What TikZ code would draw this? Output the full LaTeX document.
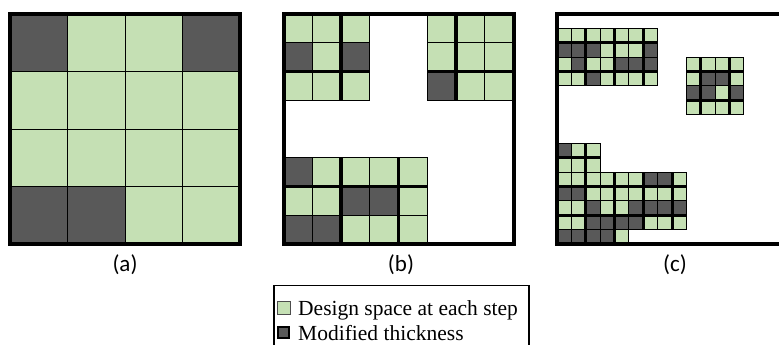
\documentclass[tikz,border=0pt]{standalone}
\usepackage{fontspec}
\setmainfont{Liberation Serif}
\newfontfamily\labelfont{Carlito}
\definecolor{cG}{HTML}{C5E0B4}
\definecolor{cD}{HTML}{595959}
\newcommand{\cblock}[3]{%
  \foreach \rw [count=\j from #2] in {#3}{%
    \foreach \t [count=\i from #1] in \rw {%
      \filldraw[fill=c\t,gridline] (\i,\j) rectangle ++(1,1);}}}
\begin{document}
\begin{tikzpicture}[x=1pt,y=-1pt,
  gridline/.style={draw=black,line width=0.8pt},
  thickline/.style={draw=black,line width=3.5pt},
  border/.style={draw=black,line width=4pt},
  plabel/.style={font=\labelfont\fontsize{23}{27}\selectfont,inner sep=0pt},
  legtext/.style={font=\fontsize{21.5}{25}\selectfont,inner sep=0pt,anchor=base west}]
\useasboundingbox (0,0) rectangle (779,345);
\fill[white] (0,0) rectangle (779,345);
% panel (a)
\begin{scope}[shift={(10,14)},x=57.5pt,y=-57.5pt]
  \cblock{0}{0}{{D,G,G,D},{G,G,G,G},{G,G,G,G},{D,D,G,G}}
  \draw[border] (0,0) rectangle (4,4);
\end{scope}
% panel (b)
\begin{scope}[shift={(283.5,14)},x=28.75pt,y=-28.75pt]
  \cblock{0}{0}{{G,G,G},{D,G,D},{G,G,G}}
  \cblock{5}{0}{{G,G,G},{G,G,G},{D,G,G}}
  \cblock{0}{5}{{D,G,G,G,G},{G,G,D,D,G},{D,D,G,G,G}}
  \draw[thickline] (2,0) -- (2,3) (0,2) -- (3,2);
  \draw[thickline] (6,0) -- (6,3) (5,2) -- (8,2);
  \draw[thickline] (2,5) -- (2,8) (4,5) -- (4,8) (0,6) -- (5,6);
  \draw[border] (0,0) rectangle (8,8);
\end{scope}
% panel (c)
\begin{scope}[shift={(557,14)},x=14.375pt,y=-14.375pt]
  \cblock{0}{1}{{G,G,G,G,G,G,G},{D,D,D,G,G,G,D},{G,D,G,G,D,D,D},{G,G,D,G,G,G,G}}
  \cblock{9}{3}{{G,G,G,G},{G,D,D,G},{D,D,G,D},{G,G,G,G}}
  \cblock{0}{9}{{D,G,G},{G,G,G}}
  \cblock{0}{11}{{G,G,G,G,G,G,D,D,G},{D,D,G,G,G,G,G,G,G},{G,G,D,G,G,D,D,D,D},{G,G,D,D,D,D,G,G,G}}
  \cblock{0}{15}{{D,D,D,D,G}}
  \begin{scope}[thickline/.append style={line width=3pt}]
  \draw[thickline] (2,1) -- (2,5) (4,1) -- (4,5) (6,1) -- (6,5) (0,2) -- (7,2) (0,4) -- (7,4);
  \draw[thickline] (10,3) -- (10,7) (12,3) -- (12,7) (9,4) -- (13,4) (9,6) -- (13,6);
  \draw[thickline] (2,9) -- (2,16) (4,11) -- (4,16) (6,11) -- (6,15) (8,11) -- (8,15)
                   (0,10) -- (3,10) (0,12) -- (9,12) (0,14) -- (9,14);
  \end{scope}
  \draw[border] (0,0) rectangle (16,16);
\end{scope}
% labels
\node[plabel] (la) at (125,265) {(a)};
\node[plabel] (lb) at (401,265) {(b)};
\node[plabel] (lc) at (675,265) {(c)};
% legend
\draw[line width=1.2pt] (274,370) -- (274,285.5) -- (529,285.5) -- (529,370);
\filldraw[fill=cG,draw=black!70,line width=0.8pt] (277,301) rectangle (290,314);
\filldraw[fill=cD,draw=black,line width=2pt] (278,326.5) rectangle (289,337.5);
\node[legtext] (l1) at (298,315) {Design space at each step};
\node[legtext] (l2) at (298,340) {Modified thickness};
\end{tikzpicture}
\end{document}
